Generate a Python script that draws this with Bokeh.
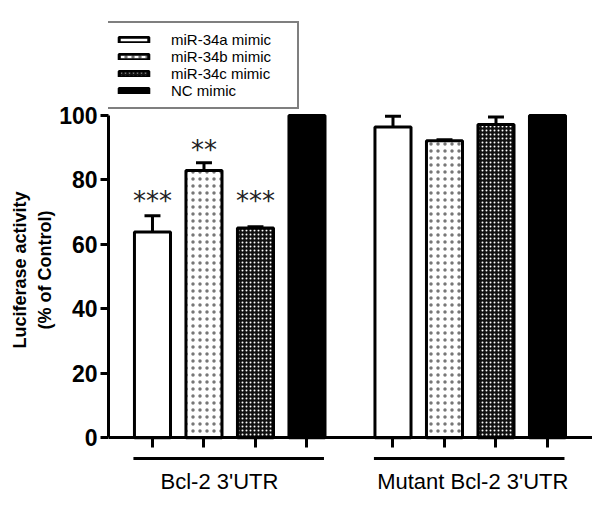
from bokeh.plotting import figure
from bokeh.models import (ColumnDataSource, Legend, LegendItem, FixedTicker,
                          Range1d, Title)
from bokeh.core.properties import value
from bokeh.embed import file_html
from bokeh.resources import INLINE

# ---- data ----
series = ["miR-34a mimic", "miR-34b mimic", "miR-34c mimic", "NC mimic"]
groups = ["Bcl-2 3'UTR", "Mutant Bcl-2 3'UTR"]
wt_mean = [63.8, 82.9, 65.1, 100.0]
wt_err = [5.1, 2.4, 0.4, 0.0]
mut_mean = [96.4, 92.2, 97.2, 100.0]
mut_err = [3.4, 0.3, 2.3, 0.0]
wt_sig = ["***", "**", "***", ""]
wt_sig_y = [73.6, 89.4, 73.6, 0.0]
y_ticks = [0, 20, 40, 60, 80, 100]
y_title_1 = "Luciferase activity"
y_title_2 = "(% of Control)"

FONT = "Liberation Sans"
group_offset = 4.67
bar_w = 0.70
label_shift = [-0.2, 0.05]

p = figure(width=592, height=497, output_backend="svg", toolbar_location=None,
           x_range=Range1d(-0.854, 8.544), y_range=Range1d(-16.1, 132.6),
           min_border_left=108, min_border_right=0, min_border_top=10,
           min_border_bottom=8)
p.title.visible = False
p.outline_line_color = None
p.xgrid.visible = False
p.ygrid.visible = False
p.background_fill_color = "white"
p.border_fill_color = "white"

styles = [
    dict(fill_color="white"),
    dict(fill_color="white", hatch_pattern="dot", hatch_scale=7, hatch_weight=0.5,
         hatch_color="#777777"),
    dict(fill_color="#111111", hatch_pattern="dot", hatch_scale=4, hatch_weight=1.3,
         hatch_color="white"),
    dict(fill_color="black"),
]

renderers = []
for i, s in enumerate(series):
    xs = [i + g * group_offset for g in range(len(groups))]
    tops = [wt_mean[i], mut_mean[i]]
    errs = [wt_err[i], mut_err[i]]
    src = ColumnDataSource(dict(x=xs, top=tops))
    ex = [x for x, e in zip(xs, errs) if e > 0]
    if ex:
        esrc = ColumnDataSource(dict(
            x=ex,
            y0=[t for t, e in zip(tops, errs) if e > 0],
            y1=[t + e for t, e in zip(tops, errs) if e > 0],
            cl=[x - 0.155 for x in ex], cr=[x + 0.155 for x in ex]))
        p.segment(x0="x", y0="y0", x1="x", y1="y1", source=esrc, line_color="black",
                  line_width=3)
        p.segment(x0="cl", y0="y1", x1="cr", y1="y1", source=esrc, line_color="black",
                  line_width=3)
    r = p.vbar(x="x", top="top", bottom=0, width=bar_w, source=src,
               line_color="black", line_width=3, **styles[i])
    renderers.append(r)

# significance stars
sx = [i for i, s in enumerate(wt_sig) if s]
p.text(x=sx, y=[wt_sig_y[i] for i in sx], text=[wt_sig[i] for i in sx],
       text_font=value("DejaVu Sans"), text_font_size="26px", text_color="#222222",
       text_align="center", text_baseline="middle")

# group brackets and labels
n = len(series)
gx0 = [g * group_offset - 0.37 for g in range(len(groups))]
gx1 = [g * group_offset + (n - 1) + 0.33 for g in range(len(groups))]
p.segment(x0=gx0, y0=-6.5, x1=gx1, y1=-6.5, line_color="black", line_width=3)
p.text(x=[g * group_offset + (n - 1) / 2 + label_shift[g] for g in range(len(groups))],
       y=-13.7, text=groups, text_font=value(FONT), text_font_size="22px",
       text_align="center", text_baseline="middle", text_color="black")

# axes
xa = p.xaxis[0]
xa.fixed_location = 0
xa.ticker = FixedTicker(ticks=[i + g * group_offset for g in range(len(groups)) for i in range(n)])
xa.major_label_text_font_size = "0px"
xa.major_label_text_color = None
xa.axis_line_width = 3
xa.axis_line_color = "black"
xa.major_tick_line_width = 3
xa.major_tick_line_color = "black"
xa.major_tick_out = 10
xa.major_tick_in = 0
xa.minor_tick_line_color = None

ya = p.yaxis[0]
ya.bounds = (0, 100)
ya.ticker = FixedTicker(ticks=y_ticks)
ya.axis_line_width = 3
ya.axis_line_color = "black"
ya.major_tick_line_width = 3
ya.major_tick_line_color = "black"
ya.major_tick_out = 8
ya.major_tick_in = 0
ya.minor_tick_line_color = None
ya.major_label_text_font = FONT
ya.major_label_text_font_style = "bold"
ya.major_label_text_font_size = "23px"
ya.major_label_text_color = "black"
ya.major_label_standoff = 3

for txt, off, so in ((y_title_2, 160, 4), (y_title_1, 141, 2)):
    p.add_layout(Title(text=txt, align="left", offset=off, standoff=so,
                       text_font=FONT, text_font_style="bold", text_font_size="18px",
                       text_color="black"), "left")

legend = Legend(items=[LegendItem(label=s, renderers=[r]) for s, r in zip(series, renderers)],
                location=(-3, 380), orientation="vertical",
                glyph_width=37, glyph_height=7, label_height=17, label_width=118,
                spacing=0, padding=8, margin=0, label_standoff=19,
                label_text_font=FONT, label_text_font_size="15px",
                label_text_baseline="middle", label_text_color="black",
                border_line_color="black", border_line_width=2,
                background_fill_color="white", background_fill_alpha=1.0)
p.add_layout(legend)

open("out.html", "w").write(file_html(p, INLINE))
